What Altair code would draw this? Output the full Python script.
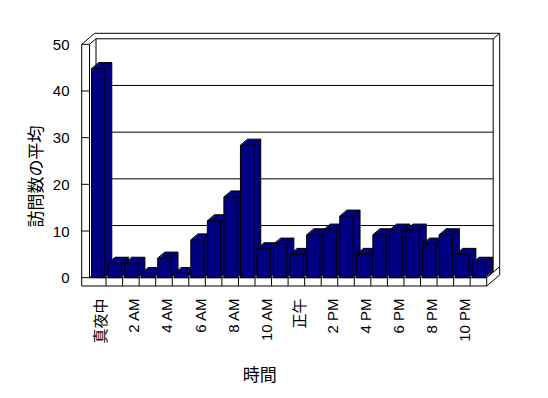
import json
import altair as alt
import pandas as pd

# ---------------- data ----------------
categories = ["真夜中", "1 AM", "2 AM", "3 AM", "4 AM", "5 AM", "6 AM", "7 AM",
              "8 AM", "9 AM", "10 AM", "11 AM", "正午", "1 PM", "2 PM", "3 PM",
              "4 PM", "5 PM", "6 PM", "7 PM", "8 PM", "9 PM", "10 PM", "11 PM"]
visits = [44.8, 3.1, 3.1, 0.9, 4.2, 0.9, 8.1, 12.2, 17.3, 28.4, 6.2, 7.2,
          5.0, 9.2, 10.2, 13.2, 5.0, 9.2, 10.2, 10.2, 7.2, 9.2, 5.0, 3.1]
y_ticks = [0, 10, 20, 30, 40, 50]
shown_label_pos = [0.5, 2.5, 4.5, 6.5, 8.5, 10.5, 12.5, 14.5, 16.5, 18.5, 20.5, 22.5]
dividers = list(range(1, 25))

df = pd.DataFrame({"idx": list(range(len(categories))), "hour": categories, "visits": visits})
ticks_df = pd.DataFrame({"t": y_ticks})
div_df = pd.DataFrame({"k": dividers})
one = pd.DataFrame({"a": [0]})

# ---------------- style ----------------
W, H = 397.2, 233.4
PAD_L, PAD_T = 89.5, 44.3
NAVY = "#000080"
LAT = "Liberation Sans, Noto Sans CJK JP"
CJK = "Noto Sans CJK JP"
XS = alt.Scale(domain=[0, 24], nice=False, zero=False)
YS = alt.Scale(domain=[0, 50], nice=False, zero=False)
X0, X1 = 2.0, 15.3          # bar front face within its band (px)
BDX, BDY = 7, -6            # bar depth
WDX, WDY = 6.5, -5.5        # back wall front face
BWX, BWY = 13, -11          # back wall back face
LW, FT = 7.8, 8.3           # left wall / floor thickness

label_expr = json.dumps(categories, ensure_ascii=False) + "[floor(datum.value)]"
X_AXIS = alt.Axis(values=shown_label_pos, labelExpr=label_expr, labelAngle=270,
                  labelAlign="right", labelBaseline="middle", labelPadding=20.3,
                  labelOffset=3, labelFlush=False, labelBound=False, labelOverlap=False,
                  labelSeparation=0,
                  labelFont=LAT, labelFontSize=15, labelColor="black",
                  ticks=False, domain=False, grid=False,
                  title="時間", titleFont=CJK, titleFontSize=17, titleFontWeight="normal",
                  titleColor="black", titleX=169.7, titleY=97.3, titleAlign="center",
                  titleBaseline="middle")
Y_AXIS = alt.Axis(values=y_ticks, labelPadding=20.5, labelFlush=False, labelBound=False,
                  labelOverlap=False,
                  labelFont=LAT, labelFontSize=15, labelColor="black",
                  ticks=False, domain=False, grid=False,
                  title="訪問数の平均", titleFont=CJK, titleFontSize=17, titleFontWeight="normal",
                  titleColor="black", titleAngle=270, titleX=-53, titleY=131.7,
                  titleAlign="center", titleBaseline="middle")


def rule(data, x, y, x2=None, y2=None, **offs):
    enc = {"x": x, "y": y}
    if x2 is not None:
        enc["x2"] = x2
    if y2 is not None:
        enc["y2"] = y2
    return alt.Chart(data).mark_rule(color="black", strokeWidth=1, **offs).encode(**enc)


def xd(v):
    return alt.XDatum(v, scale=XS, axis=X_AXIS)


def yd(v):
    return alt.YDatum(v, scale=YS, axis=Y_AXIS)


def xf(f):
    return alt.X(f, type="quantitative", scale=XS, axis=X_AXIS)


def yf(f):
    return alt.Y(f, type="quantitative", scale=YS, axis=Y_AXIS)


layers = []
# back wall front face: gridlines, top and bottom edges
layers.append(rule(ticks_df, xd(0), yf("t"), x2=alt.X2Datum(24),
                   xOffset=WDX, x2Offset=WDX, yOffset=WDY))
layers.append(rule(one, xd(0), yd(50), y2=alt.Y2Datum(0), xOffset=WDX, yOffset=WDY, y2Offset=WDY))
layers.append(rule(one, xd(24), yd(50), y2=alt.Y2Datum(0), xOffset=WDX, yOffset=WDY, y2Offset=WDY))
# back wall top / right faces
layers.append(rule(one, xd(0), yd(50), x2=alt.X2Datum(24), xOffset=BWX - LW, x2Offset=BWX, yOffset=BWY))
layers.append(rule(one, xd(24), yd(50), x2=alt.X2Datum(24), y2=alt.Y2Datum(50),
                   xOffset=WDX, yOffset=WDY, x2Offset=BWX, y2Offset=BWY))
layers.append(rule(one, xd(24), yd(50), y2=alt.Y2Datum(0), xOffset=BWX, yOffset=BWY, y2Offset=BWY))
# left wall
layers.append(rule(one, xd(0), yd(50), y2=alt.Y2Datum(0), xOffset=-LW, y2Offset=FT))
layers.append(rule(one, xd(0), yd(50), y2=alt.Y2Datum(0)))
layers.append(rule(ticks_df, xd(0), yf("t"), x2=alt.X2Datum(0), xOffset=-LW))
layers.append(rule(one, xd(0), yd(50), x2=alt.X2Datum(0), y2=alt.Y2Datum(50),
                   xOffset=-LW, x2Offset=BWX - LW, y2Offset=BWY))
layers.append(rule(one, xd(0), yd(50), x2=alt.X2Datum(0), y2=alt.Y2Datum(50), x2Offset=WDX, y2Offset=WDY))
layers.append(rule(one, xd(0), yd(0), x2=alt.X2Datum(0), y2=alt.Y2Datum(0), x2Offset=WDX, y2Offset=WDY))
# floor
layers.append(rule(one, xd(0), yd(0), x2=alt.X2Datum(24)))
layers.append(rule(one, xd(0), yd(0), x2=alt.X2Datum(24), xOffset=-LW, yOffset=FT))
layers.append(rule(div_df, xf("k"), yd(0), y2=alt.Y2Datum(0), y2Offset=FT))
layers.append(rule(one, xd(24), yd(0), x2=alt.X2Datum(24), y2=alt.Y2Datum(0), x2Offset=BWX, y2Offset=BWY))
layers.append(rule(one, xd(24), yd(0), x2=alt.X2Datum(24), y2=alt.Y2Datum(0),
                   yOffset=FT, x2Offset=BWX, y2Offset=FT + BWY))
layers.append(rule(one, xd(24), yd(0), y2=alt.Y2Datum(0), xOffset=BWX, yOffset=BWY, y2Offset=FT + BWY))

# bars: extruded depth
bx = xf("idx")
by = yf("visits")
for k in range(1, 8):
    off = BDY * k / 7.0
    layers.append(alt.Chart(df).mark_rect(color=NAVY, xOffset=X0 + k, x2Offset=X1 + k,
                                          yOffset=off, y2Offset=off)
                  .encode(x=bx, x2=alt.X2("idx"), y=by, y2=alt.Y2Datum(0)))
# bar edges
layers.append(rule(df, bx, by, x2=alt.X2("idx"), xOffset=X0 + BDX, x2Offset=X1 + BDX, yOffset=BDY))
layers.append(rule(df, bx, by, y2=alt.Y2Datum(0), xOffset=X1 + BDX, yOffset=BDY, y2Offset=BDY))
layers.append(rule(df, bx, by, x2=alt.X2("idx"), y2=alt.Y2("visits"),
                   xOffset=X0, x2Offset=X0 + BDX, y2Offset=BDY))
layers.append(rule(df, bx, by, x2=alt.X2("idx"), y2=alt.Y2("visits"),
                   xOffset=X1, x2Offset=X1 + BDX, y2Offset=BDY))
layers.append(rule(df, bx, yd(0), x2=alt.X2("idx"), y2=alt.Y2Datum(0),
                   xOffset=X1, x2Offset=X1 + BDX, y2Offset=BDY))
# bar front faces
layers.append(alt.Chart(df).mark_rect(color=NAVY, stroke="black", strokeWidth=1,
                                      xOffset=X0, x2Offset=X1).encode(
    x=bx, x2=alt.X2("idx"), y=by, y2=alt.Y2Datum(0)))

chart = alt.layer(*layers).properties(
    width=W, height=H,
    autosize=alt.AutoSizeParams(type="none"),
    padding={"left": PAD_L, "top": PAD_T, "right": 548 - PAD_L - W, "bottom": 398 - PAD_T - H},
    background="white",
).configure_view(stroke=None).configure_axis(labelOverlap=False)

chart.save("out.html", embed_options={"renderer": "svg", "actions": False})
